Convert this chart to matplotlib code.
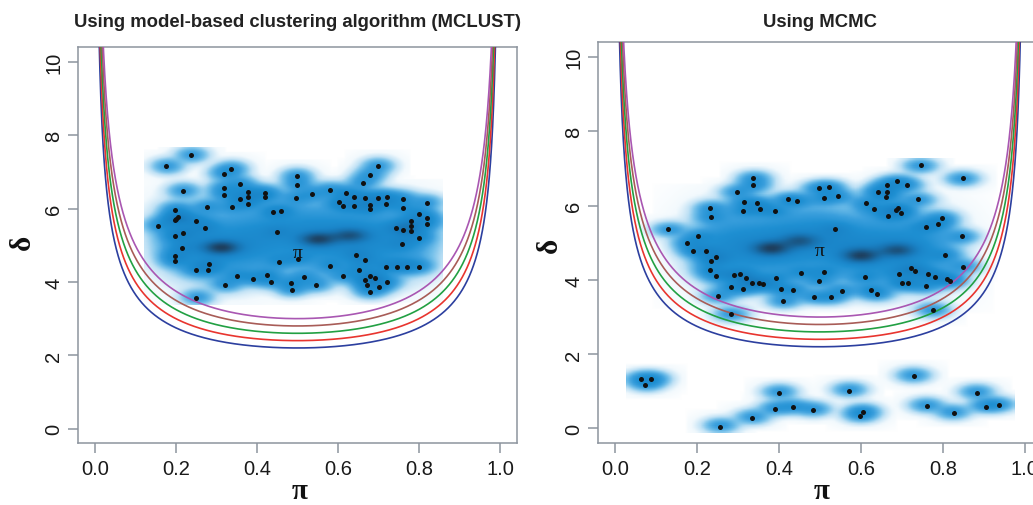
import numpy as np
import matplotlib.pyplot as plt
from matplotlib.colors import LinearSegmentedColormap

# points drawn on top of the smoothed scatter
mclust_pi = [0.237, 0.177, 0.318, 0.337, 0.498, 0.500, 0.699, 0.679, 0.661, 0.358,
             0.217, 0.318, 0.318, 0.377, 0.377, 0.420, 0.420, 0.358, 0.379, 0.496,
             0.537, 0.580, 0.619, 0.640, 0.667, 0.679, 0.679, 0.699, 0.720, 0.718,
             0.760, 0.760, 0.819, 0.602, 0.612, 0.640, 0.198, 0.200, 0.206, 0.197,
             0.277, 0.339, 0.439, 0.460, 0.157, 0.249, 0.218, 0.272, 0.197, 0.450,
             0.216, 0.801, 0.821, 0.821, 0.780, 0.780, 0.743, 0.761, 0.780, 0.801,
             0.758, 0.502, 0.455, 0.198, 0.197, 0.281, 0.280, 0.249, 0.580, 0.644,
             0.651, 0.666, 0.718, 0.747, 0.770, 0.800, 0.350, 0.391, 0.426, 0.434,
             0.517, 0.612, 0.322, 0.485, 0.486, 0.546, 0.667, 0.679, 0.692, 0.673,
             0.701, 0.679, 0.720, 0.251]
mclust_delta = [7.46, 7.15, 6.95, 7.08, 6.88, 6.65, 7.16, 6.91, 6.70, 6.68,
                6.48, 6.56, 6.38, 6.46, 6.33, 6.43, 6.33, 6.25, 6.13, 6.28,
                6.39, 6.51, 6.42, 6.33, 6.29, 6.10, 5.99, 6.29, 6.31, 6.13,
                6.27, 6.01, 6.16, 6.17, 6.08, 6.07, 5.97, 5.72, 5.77, 5.68,
                6.04, 6.04, 5.90, 5.93, 5.54, 5.65, 5.33, 5.47, 5.25, 5.36,
                4.93, 5.86, 5.75, 5.58, 5.65, 5.52, 5.46, 5.42, 5.38, 5.21,
                5.03, 4.63, 4.55, 4.72, 4.57, 4.48, 4.34, 4.34, 4.43, 4.74,
                4.34, 4.59, 4.42, 4.42, 4.42, 4.42, 4.16, 4.09, 4.19, 4.01,
                4.13, 4.16, 3.92, 3.96, 3.79, 3.92, 4.05, 4.15, 4.10, 3.92,
                3.87, 3.73, 3.99, 3.56]

mcmc_pi = [0.746, 0.849, 0.338, 0.338, 0.297, 0.497, 0.522, 0.509, 0.545, 0.689,
           0.712, 0.663, 0.663, 0.641, 0.661, 0.740, 0.422, 0.444, 0.315, 0.347,
           0.353, 0.312, 0.391, 0.233, 0.234, 0.612, 0.631, 0.686, 0.691, 0.697,
           0.666, 0.798, 0.789, 0.758, 0.537, 0.129, 0.203, 0.847, 0.177, 0.190,
           0.221, 0.247, 0.234, 0.804, 0.231, 0.247, 0.291, 0.306, 0.320, 0.334,
           0.351, 0.362, 0.394, 0.454, 0.511, 0.498, 0.610, 0.692, 0.722, 0.731,
           0.764, 0.780, 0.850, 0.700, 0.714, 0.758, 0.811, 0.818, 0.625, 0.639,
           0.553, 0.434, 0.404, 0.312, 0.283, 0.252, 0.411, 0.486, 0.527, 0.282,
           0.777, 0.064, 0.089, 0.074, 0.400, 0.572, 0.729, 0.884, 0.391, 0.434,
           0.484, 0.605, 0.599, 0.761, 0.826, 0.906, 0.937, 0.334, 0.256]
mcmc_delta = [7.09, 6.74, 6.75, 6.55, 6.38, 6.47, 6.50, 6.20, 6.26, 6.66,
              6.56, 6.55, 6.38, 6.38, 6.23, 6.17, 6.17, 6.13, 6.10, 6.07,
              5.91, 5.86, 5.86, 5.94, 5.70, 6.08, 5.91, 5.89, 5.93, 5.79,
              5.73, 5.67, 5.51, 5.43, 5.37, 5.36, 5.17, 5.17, 5.00, 4.79,
              4.79, 4.61, 4.52, 4.66, 4.26, 4.11, 4.13, 4.15, 4.04, 3.92,
              3.91, 3.88, 4.04, 4.19, 4.21, 3.98, 4.07, 4.17, 4.33, 4.23,
              4.16, 4.07, 4.36, 3.91, 3.91, 3.83, 4.03, 3.97, 3.73, 3.62,
              3.70, 3.72, 3.75, 3.76, 3.81, 3.56, 3.42, 3.54, 3.53, 3.07,
              3.18, 1.32, 1.32, 1.18, 0.96, 1.02, 1.41, 0.96, 0.52, 0.57,
              0.49, 0.44, 0.33, 0.60, 0.41, 0.59, 0.62, 0.28, 0.05]

# bulk of the cloud where no points are drawn (estimated from the shading)
mclust_body_pi = [0.21, 0.27, 0.35, 0.42, 0.50, 0.57, 0.64, 0.71, 0.78]
mclust_body_delta = [5.2, 5.0, 5.0, 5.2, 5.3, 5.2, 5.2, 5.1, 5.1]
mclust_body_w = [7, 11, 12, 11, 11, 12, 12, 10, 7]
mclust_spot_pi = [0.31, 0.55, 0.63]
mclust_spot_delta = [4.92, 5.15, 5.25]
mclust_spot_w = [10, 9, 7]

mcmc_body_pi = [0.24, 0.29, 0.36, 0.43, 0.50, 0.57, 0.64, 0.71, 0.77]
mcmc_body_delta = [4.9, 4.9, 4.9, 5.0, 5.1, 4.9, 4.8, 4.9, 4.8]
mcmc_body_w = [5, 10, 12, 12, 12, 12, 12, 10, 7]
mcmc_spot_pi = [0.38, 0.45, 0.60, 0.69]
mcmc_spot_delta = [4.85, 5.05, 4.65, 4.80]
mcmc_spot_w = [9, 6, 9, 7]

# boundary curves: value of delta at pi = 0.5
delta_levels = [2.2, 2.4, 2.6, 2.8, 3.0]
level_colors = ['#2c3f9f', '#e8352f', '#22a043', '#a85c57', '#a957b2']

FRAME = '#8d949e'
blues = LinearSegmentedColormap.from_list('ss', [
    (0.0, '#ffffff'), (0.2, '#f2f9fd'), (0.35, '#bfe1f5'), (0.45, '#74c0ea'),
    (0.55, '#3a9fdd'), (0.65, '#1e8fd2'), (0.75, '#1a84c8'), (0.85, '#1872b0'),
    (0.93, '#1a5a8a'), (1.0, '#1e3f5e')])


def gauss(grid, centres, sd):
    c = np.asarray(centres, float)
    z = (grid[None, :] - c[:, None]) / sd
    k = np.exp(-0.5 * z ** 2) / (sd * np.sqrt(2 * np.pi))
    k[np.abs(z) > 3.4] = 0.0   # kernel cut off like bkde2D
    return k


def layer(gx, gy, cx, cy, w, sx, sy):
    w = np.asarray(w, float)
    return (w[:, None] * gauss(gy, cy, sy)).T @ gauss(gx, cx, sx)


def draw_panel(ax, px, py, body, spots, bw, title, pad):
    x0, x1 = min(px) - 1.5 * bw[0], max(px) + 1.5 * bw[0]
    y0, y1 = min(py) - 1.5 * bw[1], max(py) + 1.5 * bw[1]
    gx = np.linspace(x0, x1, 128)
    gy = np.linspace(y0, y1, 128)
    dens = layer(gx, gy, px, py, np.ones(len(px)), bw[0], bw[1])
    dens += layer(gx, gy, *body, 0.045, 0.5)
    dens += layer(gx, gy, *spots, 0.03, 0.13)
    dens = (dens / dens.max()) ** 0.25
    ax.imshow(dens, extent=(x0, x1, y0, y1), origin='lower', cmap=blues,
              vmin=0, vmax=1, aspect='auto', interpolation='bilinear', zorder=1)

    p = np.linspace(0.0005, 0.9995, 3000)
    for lev, col in zip(delta_levels, level_colors):
        ax.plot(p, lev / (2 * np.sqrt(p * (1 - p))), color=col, lw=1.2, zorder=3)

    ax.plot(px, py, 'o', ms=3.6, color='#111111', mec='none', zorder=4)
    ax.text(0.5, 4.8, 'π', fontsize=14, family='Liberation Serif',
            ha='center', va='center', color='#111111', zorder=5)

    ax.set_xlim(-0.042, 1.042)
    ax.set_ylim(-0.4, 10.4)
    ax.set_xticks([0.0, 0.2, 0.4, 0.6, 0.8, 1.0])
    ax.set_xticklabels(['0.0', '0.2', '0.4', '0.6', '0.8', '1.0'])
    ax.set_yticks([0, 2, 4, 6, 8, 10])
    ax.tick_params(axis='both', length=7, width=1.1, color=FRAME,
                   labelsize=14.5, labelcolor='#1a1a1a')
    ax.tick_params(axis='x', pad=4.5)
    ax.tick_params(axis='y', pad=3.5)
    for lbl in ax.get_yticklabels():
        lbl.set_rotation(90)
        lbl.set_va('center')
    for s in ax.spines.values():
        s.set_color(FRAME)
        s.set_linewidth(1.1)
    ax.set_title(title, fontsize=13.3, fontweight='bold', color='#222222', pad=pad)


plt.rcParams['font.family'] = ['Liberation Sans', 'DejaVu Sans']
fig = plt.figure(figsize=(10.33, 5.06), dpi=100)
W, H = 1033.0, 506.0
ax1 = fig.add_axes([77.7 / W, 1 - 444.3 / H, 439.3 / W, 396.0 / H])
ax2 = fig.add_axes([597.7 / W, 1 - 444.3 / H, 444.4 / W, 401.0 / H])

draw_panel(ax1, mclust_pi, mclust_delta,
           (mclust_body_pi, mclust_body_delta, mclust_body_w),
           (mclust_spot_pi, mclust_spot_delta, mclust_spot_w),
           (0.024, 0.13), 'Using model-based clustering algorithm (MCLUST)', 15)
draw_panel(ax2, mcmc_pi, mcmc_delta,
           (mcmc_body_pi, mcmc_body_delta, mcmc_body_w),
           (mcmc_spot_pi, mcmc_spot_delta, mcmc_spot_w),
           (0.025, 0.12), 'Using MCMC', 11.5)

lab = dict(fontsize=21, fontweight='bold', family='Liberation Serif', color='#111111',
           ha='center', va='center')
fig.text(300 / W, 1 - 492 / H, 'π', **lab)
fig.text(822 / W, 1 - 492 / H, 'π', **lab)
fig.text(22 / W, 1 - 242 / H, 'δ', rotation=90, **lab)
fig.text(549 / W, 1 - 245 / H, 'δ', rotation=90, **lab)

fig.savefig('out.png', dpi=100)
